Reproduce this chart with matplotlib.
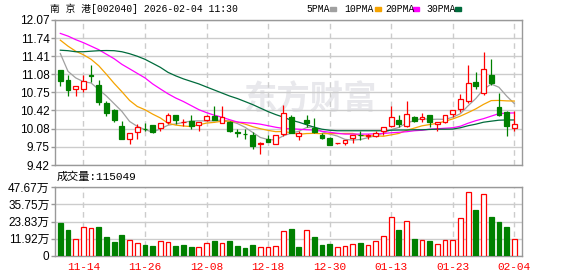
import matplotlib
matplotlib.use("Agg")
import matplotlib.pyplot as plt

# --- data (南京港 002040, daily) ---
dates = ["11-11", "11-12", "11-13", "11-14", "11-17", "11-18", "11-19", "11-20", "11-21", "11-24",
         "11-25", "11-26", "11-27", "11-28", "12-01", "12-02", "12-03", "12-04", "12-05", "12-08",
         "12-09", "12-10", "12-11", "12-12", "12-15", "12-16", "12-17", "12-18", "12-19", "12-22",
         "12-23", "12-24", "12-25", "12-26", "12-29", "12-30", "12-31", "01-05", "01-06", "01-07",
         "01-08", "01-09", "01-12", "01-13", "01-14", "01-15", "01-16", "01-19", "01-20", "01-21",
         "01-22", "01-23", "01-26", "01-27", "01-28", "01-29", "01-30", "02-02", "02-03", "02-04"]
tick_dates = ["11-14", "11-26", "12-08", "12-18", "12-30", "01-13", "01-23", "02-04"]

opens = [11.150, 10.966, 10.813, 10.813, 11.058, 10.887, 10.556, 10.432, 10.138, 9.904,
         10.028, 10.080, 10.151, 10.096, 10.199, 10.335, 10.200, 10.224, 10.151, 10.243,
         10.309, 10.188, 10.212, 10.015, 9.990, 9.972, 9.810, 9.904, 9.800, 9.985,
         10.290, 9.941, 10.248, 10.088, 9.972, 9.912, 9.820, 9.820, 9.912, 9.975,
         9.950, 9.941, 10.033, 10.138, 10.248, 10.138, 10.304, 10.261, 10.340, 10.170,
         10.199, 10.353, 10.445, 10.585, 10.935, 10.740, 11.058, 10.488, 10.396, 10.096]
closes = [10.953, 10.782, 10.856, 10.953, 11.050, 10.567, 10.372, 10.243, 9.893, 10.004,
          10.120, 10.075, 10.015, 10.188, 10.335, 10.243, 10.210, 10.138, 10.212, 10.322,
          10.248, 10.290, 10.033, 10.000, 9.980, 9.770, 9.830, 9.844, 9.967, 10.364,
          10.004, 10.004, 10.188, 10.028, 9.917, 9.788, 9.825, 9.880, 9.972, 9.965,
          9.960, 10.004, 10.107, 10.290, 10.175, 10.353, 10.230, 10.304, 10.199, 10.200,
          10.335, 10.427, 10.630, 10.924, 10.861, 11.168, 10.916, 10.335, 10.125, 10.170]
highs = [11.160, 11.058, 10.860, 11.070, 11.255, 10.966, 10.598, 10.440, 10.230, 10.010,
         10.170, 10.188, 10.155, 10.190, 10.364, 10.340, 10.260, 10.340, 10.215, 10.330,
         10.506, 10.493, 10.230, 10.077, 10.077, 10.015, 9.840, 9.967, 9.970, 10.519,
         10.335, 10.046, 10.335, 10.272, 10.004, 9.936, 9.830, 9.880, 9.975, 10.046,
         9.985, 10.033, 10.110, 10.493, 10.335, 10.598, 10.310, 10.364, 10.340, 10.200,
         10.340, 10.430, 10.720, 11.242, 11.119, 11.487, 11.352, 10.740, 10.414, 10.401]
lows = [10.860, 10.690, 10.690, 10.760, 10.935, 10.519, 10.322, 10.199, 9.890, 9.800,
        9.893, 10.046, 10.004, 10.033, 10.170, 10.170, 10.138, 10.077, 10.033, 10.230,
        10.240, 10.180, 10.030, 9.923, 9.893, 9.720, 9.630, 9.840, 9.800, 9.954,
        10.000, 9.880, 10.107, 10.004, 9.904, 9.783, 9.800, 9.788, 9.830, 9.880,
        9.904, 9.936, 9.972, 10.107, 10.107, 10.120, 10.200, 10.200, 10.120, 10.033,
        10.188, 10.290, 10.383, 10.548, 10.813, 10.703, 10.887, 10.322, 9.941, 10.033]

ma5 = [11.457, 11.132, 11.012, 10.942, 10.919, 10.800, 10.680, 10.540, 10.400, 10.216,
       10.126, 10.067, 10.021, 10.080, 10.147, 10.171, 10.198, 10.223, 10.228, 10.225,
       10.226, 10.242, 10.221, 10.179, 10.110, 10.015, 9.923, 9.885, 9.878, 9.955,
       10.002, 10.037, 10.105, 10.118, 10.028, 9.985, 9.949, 9.888, 9.876, 9.886,
       9.920, 9.956, 10.002, 10.065, 10.107, 10.186, 10.231, 10.270, 10.252, 10.257,
       10.254, 10.293, 10.358, 10.503, 10.635, 10.802, 10.900, 10.841, 10.681, 10.543]
ma10 = [11.702, 11.592, 11.500, 11.435, 11.352, 11.233, 11.076, 10.911, 10.760, 10.600,
        10.490, 10.430, 10.350, 10.280, 10.182, 10.149, 10.133, 10.122, 10.154, 10.186,
        10.199, 10.220, 10.222, 10.204, 10.168, 10.121, 10.083, 10.053, 10.029, 10.033,
        10.009, 9.980, 9.995, 9.998, 9.992, 9.994, 9.993, 9.997, 9.997, 9.957,
        9.953, 9.953, 9.945, 9.971, 9.997, 10.053, 10.094, 10.136, 10.159, 10.182,
        10.220, 10.262, 10.314, 10.378, 10.446, 10.528, 10.597, 10.600, 10.592, 10.589]
ma20 = [11.825, 11.776, 11.711, 11.656, 11.592, 11.527, 11.444, 11.362, 11.260, 11.178,
        11.095, 11.012, 10.902, 10.810, 10.721, 10.644, 10.580, 10.506, 10.432, 10.377,
        10.331, 10.294, 10.248, 10.206, 10.193, 10.184, 10.166, 10.138, 10.110, 10.088,
        10.083, 10.074, 10.064, 10.059, 10.037, 10.018, 10.000, 9.985, 9.985, 9.985,
        9.985, 9.991, 9.996, 10.009, 10.018, 10.028, 10.046, 10.055, 10.074, 10.083,
        10.092, 10.101, 10.129, 10.184, 10.230, 10.267, 10.313, 10.359, 10.368, 10.372]
ma30 = [11.518, 11.509, 11.490, 11.490, 11.500, 11.509, 11.512, 11.509, 11.490, 11.454,
        11.408, 11.352, 11.279, 11.205, 11.113, 11.049, 10.994, 10.948, 10.902, 10.846,
        10.791, 10.736, 10.681, 10.635, 10.580, 10.524, 10.460, 10.396, 10.341, 10.294,
        10.239, 10.202, 10.156, 10.110, 10.074, 10.055, 10.046, 10.046, 10.046, 10.046,
        10.046, 10.046, 10.046, 10.055, 10.059, 10.059, 10.064, 10.064, 10.070, 10.074,
        10.074, 10.077, 10.101, 10.138, 10.166, 10.202, 10.221, 10.239, 10.243, 10.243]

# volume in lots (手); colour follows the chart (r = up vs previous close)
volume = [225000, 181000, 116000, 202000, 193000, 202000, 133000, 100000, 147000, 110000,
          91000, 77000, 70000, 103000, 98000, 70000, 77000, 63000, 63000, 91000,
          105000, 91000, 105000, 70000, 56000, 77000, 63000, 63000, 70000, 175000,
          188000, 63000, 177000, 133000, 77000, 84000, 61000, 68000, 81000, 91000,
          77000, 103000, 137000, 270000, 181000, 242000, 119000, 110000, 105000, 81000,
          110000, 110000, 263000, 445000, 321000, 426000, 272000, 237000, 202000, 115049]
vol_dir = "ggrrrggggrrggrrgggrrgrggggrrrrggrgggrrrgrrrrgrgrgrrrrrgrgggr"

price_ticks = [9.42, 9.75, 10.08, 10.42, 10.75, 11.08, 11.41, 11.74, 12.07]
vol_ticks = [0, 119200, 238300, 357500, 476700]
vol_tick_labels = ["0", "11.92万", "23.83万", "35.75万", "47.67万"]

RED, GREEN = "#ff0000", "#008000"
GRID, FRAME = "#cccccc", "#999999"
ma_colors = {"5PMA": "#a0a0a0", "10PMA": "#f5a300", "20PMA": "#ff00ff", "30PMA": "#006b3c"}

plt.rcParams["font.family"] = ["Liberation Sans", "Noto Sans CJK SC"]
MONO = ["Liberation Mono", "Noto Sans CJK SC"]

W, H = 578, 276
fig = plt.figure(figsize=(W / 100, H / 100), dpi=100)
ax = fig.add_axes([55 / W, 1 - 165 / H, 467 / W, 145 / H])
axv = fig.add_axes([55 / W, 1 - 256 / H, 467 / W, 69 / H])

n = len(dates)
x = list(range(n))
tick_idx = [dates.index(d) for d in tick_dates]
bw = 0.62

for a in (ax, axv):
    a.set_xlim(-0.69, n - 0.0)
    for s in a.spines.values():
        s.set_color(FRAME)
        s.set_linewidth(1)
    a.yaxis.grid(True, color=GRID, lw=1)
    a.set_axisbelow(True)
    for i in tick_idx:
        a.axvline(i, color=GRID, lw=1, ls=(0, (4, 3)), zorder=0.6)
    a.tick_params(axis="y", length=3, width=1, color=FRAME, pad=1, labelsize=8.5)
    a.tick_params(axis="x", length=0)

# watermark
ax.text(0.545, 0.45, "东方财富", transform=ax.transAxes, fontsize=24, fontweight="bold",
        color="#e8e8ec", ha="center", va="center", family="Noto Sans CJK SC", zorder=0.5)

# moving averages
for lab, ys in zip(ma_colors, [ma5, ma10, ma20, ma30]):
    ax.plot(x, ys, color=ma_colors[lab], lw=0.9, zorder=1.5)

# candles
for i in x:
    o, c, h, l = opens[i], closes[i], highs[i], lows[i]
    up = c >= o
    col = RED if up else GREEN
    ax.vlines(i, l, h, color=col, lw=0.9, zorder=2)
    ax.bar(i, max(abs(c - o), 0.003), bottom=min(o, c), width=bw,
           facecolor="white" if up else GREEN, edgecolor=col, lw=0.9, zorder=3)

ax.set_ylim(price_ticks[0], price_ticks[-1])
ax.set_yticks(price_ticks)
ax.set_yticklabels([f"{t:.2f}" for t in price_ticks])
ax.set_xticks([])

# volume
for i in x:
    up = vol_dir[i] == "r"
    axv.bar(i, volume[i], width=bw, facecolor="white" if up else GREEN,
            edgecolor=RED if up else GREEN, lw=0.9, zorder=3)
axv.set_ylim(0, vol_ticks[-1])
axv.set_yticks(vol_ticks)
axv.set_yticklabels(vol_tick_labels)
axv.set_xticks(tick_idx)
axv.set_xticklabels(tick_dates, color=RED, family=MONO, fontsize=8)
axv.tick_params(axis="x", pad=4)

# header, legend, volume caption
fig.text(50 / W, 1 - 9 / H, "南 京 港[002040] 2026-02-04 11:30", family=MONO,
         fontsize=7, va="center", ha="left")
for lab, tx, sx in zip(ma_colors, [306, 344, 385, 426], [330, 375, 413, 455]):
    fig.text(tx / W, 1 - 9 / H, lab, family=MONO, fontsize=7, va="center", ha="left")
    fig.patches.append(plt.Rectangle((sx / W, 1 - 11 / H), 6 / W, 4 / H,
                                     transform=fig.transFigure, color=ma_colors[lab]))
fig.text(57 / W, 1 - 177 / H, f"成交量:{volume[-1]}", family=MONO, fontsize=8,
         va="center", ha="left")

fig.savefig("out.png", dpi=100)
